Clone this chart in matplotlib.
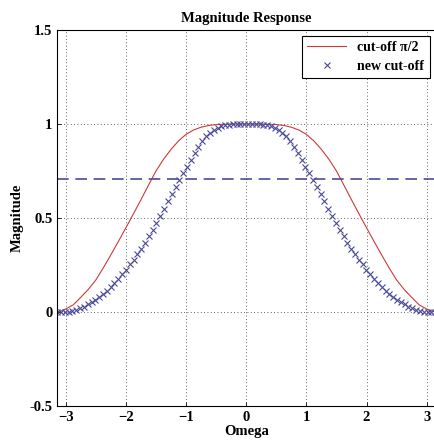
import numpy as np
import matplotlib
matplotlib.use("Agg")
import matplotlib.pyplot as plt

# red curve: cut-off pi/2
w_red = [-3.1416, -3.07, -3.0, -2.875, -2.75, -2.625, -2.5, -2.375, -2.25, -2.125,
         -2.0, -1.875, -1.75, -1.625, -1.571, -1.5, -1.375, -1.25, -1.125, -1.0,
         -0.875, -0.75, -0.625, -0.5, -0.25, 0.0,
         0.25, 0.5, 0.625, 0.75, 0.875, 1.0, 1.125, 1.25, 1.375, 1.5,
         1.571, 1.625, 1.75, 1.875, 2.0, 2.125, 2.25, 2.375, 2.5, 2.625,
         2.75, 2.875, 3.0, 3.07, 3.1416]
mag_red = [0.0, 0.006, 0.016, 0.038, 0.078, 0.12, 0.17, 0.235, 0.304, 0.375,
           0.448, 0.522, 0.597, 0.674, 0.707, 0.75, 0.812, 0.865, 0.91, 0.945,
           0.968, 0.983, 0.992, 0.997, 1.0, 1.0,
           1.0, 0.997, 0.992, 0.983, 0.968, 0.945, 0.91, 0.865, 0.812, 0.75,
           0.707, 0.674, 0.597, 0.522, 0.448, 0.375, 0.304, 0.235, 0.17, 0.12,
           0.078, 0.038, 0.016, 0.006, 0.0]

# blue markers: new cut-off, 100 samples from -pi to pi
w_blue = np.linspace(-np.pi, np.pi, 100)
mag_blue = [0.000, 0.000, 0.001, 0.002, 0.005, 0.011, 0.019, 0.029, 0.040, 0.052,
            0.065, 0.080, 0.096, 0.113, 0.132, 0.154, 0.176, 0.200, 0.226, 0.253,
            0.279, 0.306, 0.336, 0.369, 0.402, 0.437, 0.472, 0.510, 0.549, 0.588,
            0.628, 0.665, 0.700, 0.737, 0.772, 0.810, 0.845, 0.879, 0.912, 0.937,
            0.953, 0.968, 0.979, 0.988, 0.994, 0.997, 0.998, 0.999, 1.000, 1.000,
            1.000, 1.000, 0.999, 0.998, 0.997, 0.994, 0.988, 0.979, 0.968, 0.953,
            0.937, 0.912, 0.879, 0.845, 0.810, 0.772, 0.737, 0.700, 0.665, 0.628,
            0.588, 0.549, 0.510, 0.472, 0.437, 0.402, 0.369, 0.336, 0.306, 0.279,
            0.253, 0.226, 0.200, 0.176, 0.154, 0.132, 0.113, 0.096, 0.080, 0.065,
            0.052, 0.040, 0.029, 0.019, 0.011, 0.005, 0.002, 0.001, 0.000, 0.000]

half_power = 0.707

xticks = [-3, -2, -1, 0, 1, 2, 3]
yticks = [-0.5, 0, 0.5, 1, 1.5]
ytick_labels = ["-0.5", "0", "0.5", "1", "1.5"]

plt.rcParams['font.family'] = ['Liberation Serif', 'DejaVu Serif']
plt.rcParams['font.weight'] = 'bold'

fig = plt.figure(figsize=(4.35, 4.45), dpi=100)
ax = fig.add_axes([0.1315, 0.0876, 0.869, 0.845])

ax.plot(w_red, mag_red, color='#cc3a3a', lw=0.8, label='cut-off \u03c0/2')
ax.plot(w_blue, mag_blue, 'x', color='#4a4a9a', ms=4, mew=0.8, label='new cut-off')
ax.axhline(half_power, color='#4a4a9a', lw=1.2, ls=(0, (7, 4)))

ax.set_xlim(-np.pi, np.pi)
ax.set_ylim(-0.5, 1.5)
ax.set_xticks(xticks)
ax.set_yticks(yticks)
ax.set_yticklabels(ytick_labels)
ax.tick_params(direction='in', labelsize=10.5, length=3, width=0.6)
ax.grid(True, ls=(0, (1, 3)), color='#333333', lw=0.6)
for s in ax.spines.values():
    s.set_linewidth(0.8)

ax.set_title('Magnitude Response', fontsize=10.5, fontweight='bold', pad=6)
ax.set_xlabel('Omega', fontsize=10.5, fontweight='bold', labelpad=1)
ax.set_ylabel('Magnitude', fontsize=10.5, fontweight='bold', labelpad=4)

leg = ax.legend(loc='upper right', fontsize=10, fancybox=False, framealpha=1,
                edgecolor='black', borderaxespad=0.4, handlelength=2.8,
                borderpad=0.4, labelspacing=0.4)
leg.get_frame().set_linewidth(0.8)

fig.savefig('out.png', dpi=100)
